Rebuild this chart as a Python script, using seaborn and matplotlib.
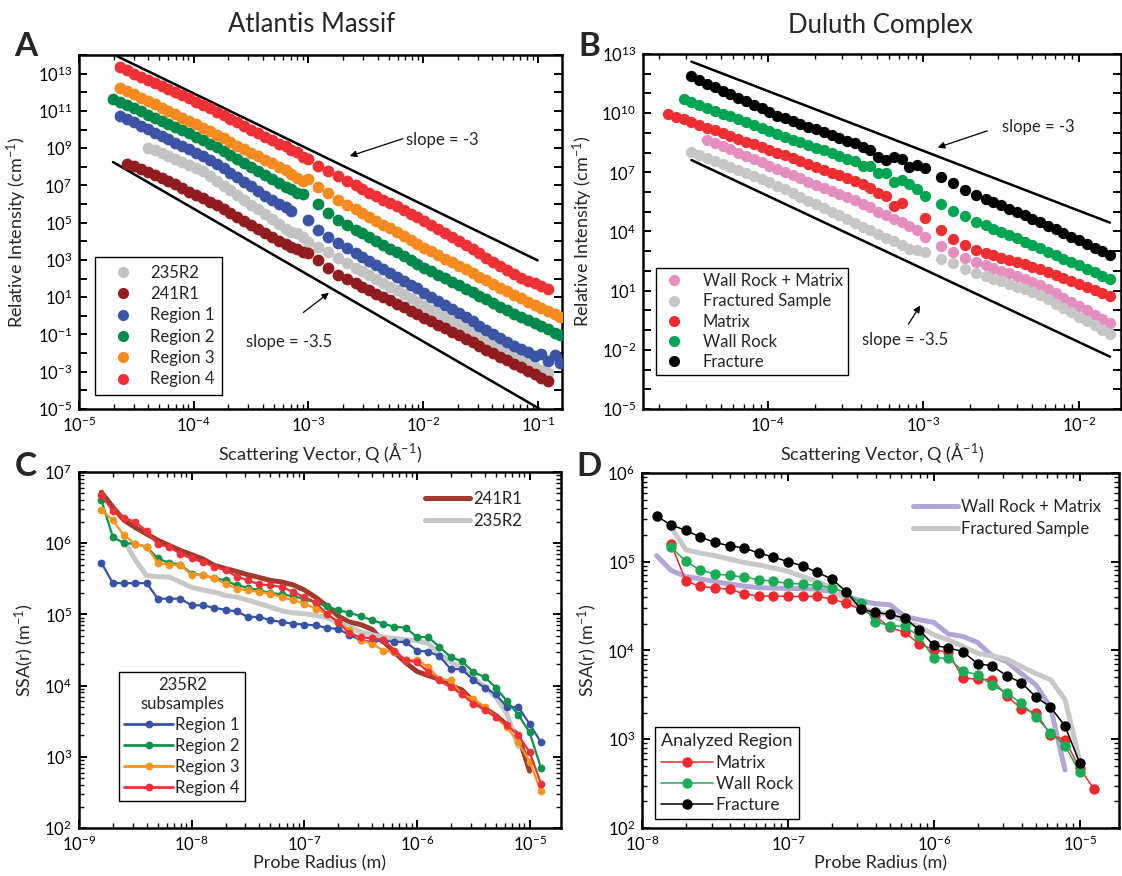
import numpy as np
import matplotlib
matplotlib.use("Agg")
import matplotlib.pyplot as plt
import matplotlib.ticker as mticker
from matplotlib.lines import Line2D
import seaborn as sns

# ---------------- panel A : Atlantis Massif (log10 values) ----------------
logq_a = [-4.70, -4.64, -4.58, -4.52, -4.46, -4.40, -4.34, -4.28, -4.22, -4.16,
          -4.10, -4.04, -3.98, -3.92, -3.86, -3.80, -3.74, -3.68, -3.62, -3.56,
          -3.50, -3.44, -3.38, -3.32, -3.26, -3.20, -3.15, -3.10, -3.05, -3.00,
          -2.92, -2.83, -2.74, -2.66, -2.59, -2.53, -2.47, -2.41, -2.35, -2.29,
          -2.23, -2.17, -2.11, -2.05, -1.99, -1.93, -1.87, -1.81, -1.75, -1.69,
          -1.63, -1.57, -1.51, -1.45, -1.39, -1.33, -1.27, -1.21, -1.15, -1.09,
          -1.03, -0.97, -0.91, -0.85, -0.81]
nan = np.nan
logi_235r2 = [nan, nan, nan, nan, nan, 9.03, 8.88, 8.72, 8.56, 8.40,
              8.24, 8.08, 7.91, 7.75, 7.50, 7.24, 6.99, 6.73, 6.47, 6.22,
              5.96, 5.71, 5.45, 5.19, 4.94, 4.68, 4.48, 4.42, 4.25, 3.95,
              3.70, 3.44, 3.11, 2.83, 2.59, 2.39, 2.18, 1.98, 1.77, 1.57,
              1.37, 1.16, 0.96, 0.75, 0.55, 0.34, 0.13, -0.08, -0.29, -0.50,
              -0.71, -0.92, -1.13, -1.34, -1.55, -1.76, -1.97, -2.18, -2.39, -2.55,
              -2.72, -2.88, -3.05, nan, nan]
logi_241r1 = [nan, nan, 8.14, 8.05, 7.88, 7.72, 7.55, 7.38, 7.22, 7.05,
              6.86, 6.67, 6.50, 6.34, 6.13, 5.93, 5.72, 5.51, 5.30, 5.09,
              4.88, 4.67, 4.46, 4.25, 4.04, 3.83, 3.70, 3.58, 3.45, 3.36,
              3.01, 2.58, 2.20, 1.96, 1.74, 1.56, 1.38, 1.19, 1.01, 0.83,
              0.64, 0.46, 0.27, 0.09, -0.10, -0.29, -0.48, -0.67, -0.86, -1.05,
              -1.24, -1.43, -1.62, -1.81, -2.00, -2.19, -2.38, -2.57, -2.76, -2.95,
              -3.14, -3.33, -3.52, nan, nan]
logi_reg1 = [nan, 10.74, 10.56, 10.38, 10.20, 10.02, 9.83, 9.65, 9.47, 9.29,
             9.11, 8.93, 8.75, 8.56, 8.35, 8.13, 7.91, 7.68, 7.45, 7.20,
             6.95, 6.70, 6.45, 6.20, 5.98, 5.85, 5.62, nan, nan, 5.15,
             4.62, 4.24, 3.92, 3.62, 3.38, 3.16, 2.95, 2.74, 2.53, 2.31,
             2.10, 1.89, 1.68, 1.47, 1.25, 1.03, 0.81, 0.59, 0.37, 0.15,
             -0.07, -0.30, -0.52, -0.74, -0.96, -1.18, -1.40, -1.60, -1.80, -1.95,
             -2.15, -2.05, -2.40, -2.10, -2.55]
logi_reg2 = [11.64, 11.47, 11.30, 11.14, 10.97, 10.80, 10.63, 10.46, 10.30, 10.13,
             9.96, 9.79, 9.62, 9.45, 9.25, 9.05, 8.84, 8.63, 8.42, 8.21,
             8.00, 7.79, 7.58, 7.36, 7.15, 6.92, 6.80, 6.62, 6.55, nan,
             6.01, 5.53, 5.15, 4.87, 4.63, 4.43, 4.22, 4.02, 3.81, 3.61,
             3.41, 3.20, 3.00, 2.79, 2.59, 2.40, 2.21, 2.02, 1.83, 1.64,
             1.45, 1.26, 1.07, 0.88, 0.69, 0.50, 0.31, 0.12, -0.07, -0.24,
             -0.40, -0.57, -0.73, -0.90, -1.05]
logi_reg3 = [nan, 12.25, 12.07, 11.89, 11.71, 11.53, 11.35, 11.17, 10.99, 10.82,
             10.64, 10.46, 10.28, 10.10, 9.91, 9.72, 9.53, 9.33, 9.14, 8.95,
             8.76, 8.57, 8.38, 8.19, 8.00, 7.81, 7.62, 7.40, 7.22, 7.35,
             6.93, 6.61, 6.23, 5.95, 5.71, 5.50, 5.30, 5.10, 4.89, 4.69,
             4.48, 4.28, 4.07, 3.87, 3.66, 3.46, 3.27, 3.07, 2.88, 2.68,
             2.49, 2.30, 2.10, 1.91, 1.72, 1.52, 1.33, 1.14, 0.95, 0.77,
             0.60, 0.42, 0.25, 0.08, -0.05]
logi_reg4 = [nan, 13.34, 13.17, 13.00, 12.84, 12.67, 12.50, 12.34, 12.17, 12.00,
             11.84, 11.67, 11.50, 11.33, 11.14, 10.95, 10.76, 10.57, 10.38, 10.19,
             10.00, 9.81, 9.62, 9.42, 9.23, 9.10, 8.88, 8.78, 8.50, 8.40,
             8.05, 7.78, 7.48, 7.22, 7.00, 6.81, 6.62, 6.43, 6.24, 6.06,
             5.87, 5.68, 5.49, 5.30, 5.11, 4.89, 4.67, 4.45, 4.23, 4.01,
             3.79, 3.57, 3.35, 3.13, 2.91, 2.69, 2.47, 2.25, 2.03, 1.87,
             1.74, 1.60, 1.46, nan, nan]
names_a = ["235R2", "241R1", "Region 1", "Region 2", "Region 3", "Region 4"]
colors_a = ["#c3c3c3", "#911c1f", "#3b54a5", "#00894a", "#f58a1f", "#ee3135"]

# ---------------- panel B : Duluth Complex (log10 values) ----------------
logq_b = [-4.64, -4.59, -4.54, -4.49, -4.44, -4.39, -4.34, -4.29, -4.24, -4.19,
          -4.14, -4.09, -4.04, -3.99, -3.94, -3.89, -3.84, -3.79, -3.74, -3.69,
          -3.64, -3.59, -3.54, -3.49, -3.44, -3.39, -3.34, -3.29, -3.24, -3.19,
          -3.14, -3.09, -3.04, -2.99,
          -2.89, -2.81, -2.73, -2.66, -2.60, -2.55, -2.50, -2.45, -2.40, -2.35,
          -2.30, -2.25, -2.20, -2.15, -2.10, -2.05, -2.00, -1.95, -1.90, -1.85, -1.80]
logi_wrm = [nan, nan, nan, nan, nan, 8.65, 8.48, 8.32, 8.16, 7.99,
            7.83, 7.67, 7.50, 7.34, 7.18, 7.01, 6.85, 6.69, 6.53, 6.37,
            6.21, 6.05, 5.89, 5.73, 5.60, 5.41, 5.26, 4.97, 4.85, 4.62,
            4.48, 4.30, 4.10, 3.70,
            3.25, 2.97, 2.66, 2.46, 2.29, 2.15, 2.01, 1.87, 1.73, 1.59,
            1.45, 1.28, 1.07, 0.86, 0.64, 0.43, 0.21, 0.00, -0.22, -0.43, -0.65]
logi_frs = [nan, nan, nan, 8.05, 7.90, 7.73, 7.58, 7.42, 7.27, 7.11,
            6.96, 6.80, 6.64, 6.49, 6.33, 6.14, 5.95, 5.76, 5.57, 5.38,
            5.19, 5.01, 4.82, 4.63, 4.44, 4.25, 4.07, 3.87, 3.68, 3.50,
            3.31, 3.10, 3.05, 2.97,
            2.60, 2.38, 2.08, 1.89, 1.73, 1.60, 1.47, 1.34, 1.21, 1.08,
            0.95, 0.77, 0.56, 0.34, 0.12, -0.10, -0.32, -0.54, -0.76, -0.97, -1.19]
logi_mat = [9.96, 9.82, 9.68, 9.54, 9.40, 9.26, 9.12, 8.98, 8.84, 8.70,
            8.56, 8.42, 8.28, 8.14, 8.00, 7.86, 7.71, 7.57, 7.42, 7.28,
            7.13, 6.99, 6.84, 6.69, 6.55, 6.40, 6.22, 5.94, 5.78, 5.27,
            5.45, nan, nan, 4.70,
            4.10, 3.60, 3.31, 3.06, 2.92, 2.80, 2.68, 2.56, 2.44, 2.33,
            2.21, 2.08, 1.93, 1.78, 1.63, 1.48, 1.33, 1.18, 1.03, 0.88, 0.74]
logi_wr = [nan, nan, 10.72, 10.57, 10.42, 10.27, 10.13, 9.98, 9.83, 9.68,
           9.53, 9.38, 9.24, 9.09, 8.94, 8.80, 8.66, 8.52, 8.38, 8.25,
           8.11, 7.97, 7.83, 7.69, 7.55, 7.30, 7.32, 6.98, 6.95, 6.50,
           6.62, 6.40, 6.15, 5.80,
           5.40, 5.05, 4.77, 4.50, 4.31, 4.14, 3.98, 3.81, 3.65, 3.49,
           3.32, 3.15, 2.98, 2.80, 2.63, 2.45, 2.28, 2.10, 1.93, 1.75, 1.58]
logi_frac = [nan, nan, nan, 11.86, 11.67, 11.50, 11.32, 11.14, 10.96, 10.78,
             10.60, 10.42, 10.24, 10.06, 9.88, 9.73, 9.59, 9.45, 9.32, 9.18,
             9.04, 8.90, 8.75, 8.59, 8.50, 8.28, 8.13, 7.79, 7.60, 7.80,
             7.70, 7.25, 7.38, 7.20,
             6.74, 6.44, 6.12, 5.85, 5.65, 5.48, 5.32, 5.15, 4.99, 4.82,
             4.65, 4.48, 4.30, 4.12, 3.93, 3.74, 3.55, 3.37, 3.18, 3.00, 2.82]
names_b = ["Wall Rock + Matrix", "Fractured Sample", "Matrix", "Wall Rock", "Fracture"]
colors_b = ["#e58fc1", "#c6c6c6", "#ee2e31", "#00a551", "#000000"]

# ---------------- panel C : SSA, Atlantis Massif ----------------
r_c = [1.58e-9, 2.00e-9, 2.51e-9, 3.16e-9, 3.98e-9, 5.01e-9, 6.31e-9, 7.94e-9,
       1.00e-8, 1.26e-8, 1.58e-8, 2.00e-8, 2.51e-8, 3.16e-8, 3.98e-8, 5.01e-8, 6.31e-8, 7.94e-8,
       1.00e-7, 1.26e-7, 1.58e-7, 2.00e-7, 2.51e-7, 3.16e-7, 3.98e-7, 5.01e-7, 6.31e-7, 7.94e-7,
       1.00e-6, 1.26e-6, 1.58e-6, 2.00e-6, 2.51e-6, 3.16e-6, 3.98e-6, 5.01e-6, 6.31e-6, 7.94e-6,
       1.00e-5, 1.26e-5]
ssa_reg1 = [5.3e5, 2.75e5, 2.75e5, 2.75e5, 2.75e5, 1.66e5, 1.66e5, 1.66e5, 1.34e5, 1.34e5,
            1.24e5, 1.16e5, 1.10e5, 9.2e4, 9.2e4, 8.3e4, 7.8e4, 7.4e4, 7.2e4, 7.0e4,
            6.5e4, 6.2e4, 5.2e4, 4.3e4, 4.1e4, 4.3e4, 4.1e4, 4.1e4, 3.1e4, 3.0e4,
            2.6e4, 1.7e4, 1.7e4, 1.2e4, 9.4e3, 7.5e3, 5.0e3, 5.0e3, 2.9e3, 1.6e3]
ssa_reg2 = [4.0e6, 1.22e6, 1.0e6, 9.8e5, 8.9e5, 6.1e5, 5.3e5, 5.0e5, 3.75e5, 3.55e5,
            3.25e5, 3.0e5, 2.56e5, 2.38e5, 2.18e5, 2.0e5, 1.91e5, 1.80e5, 1.66e5, 1.46e5,
            1.31e5, 1.14e5, 1.06e5, 9.4e4, 8.3e4, 7.4e4, 6.7e4, 6.5e4, 4.8e4, 4.8e4,
            3.5e4, 2.5e4, 2.2e4, 1.55e4, 1.32e4, 9.4e3, 6.0e3, 3.9e3, 2.2e3, 7.0e2]
ssa_reg3 = [2.96e6, 2.1e6, 1.29e6, 9.8e5, 8.9e5, 5.3e5, 5.0e5, 4.9e5, 3.6e5, 3.55e5,
            3.2e5, 2.7e5, 2.3e5, 2.18e5, 2.06e5, 1.96e5, 1.75e5, 1.58e5, 1.42e5, 1.2e5,
            1.02e5, 7.8e4, 6.0e4, 4.3e4, 3.9e4, 3.1e4, 3.0e4, 2.3e4, 2.3e4, 1.82e4,
            1.25e4, 1.18e4, 7.5e3, 6.5e3, 5.0e3, 3.6e3, 2.6e3, 1.6e3, 8.5e2, 3.3e2]
ssa_reg4 = [4.7e6, 2.83e6, 2.28e6, 1.99e6, 1.48e6, 9.6e5, 8.9e5, 7.1e5, 6.1e5, 5.4e5,
            4.7e5, 4.2e5, 3.4e5, 3.0e5, 2.64e5, 2.56e5, 2.43e5, 2.07e5, 1.75e5, 1.49e5,
            1.02e5, 7.8e4, 5.4e4, 4.8e4, 4.6e4, 4.4e4, 3.1e4, 2.26e4, 2.14e4, 1.55e4,
            1.19e4, 9.6e3, 7.5e3, 5.6e3, 4.6e3, 3.6e3, 2.8e3, 2.0e3, 1.17e3, 4.2e2]
ssa_241r1 = [5.2e6, 3.2e6, 2.1e6, 1.66e6, 1.35e6, 1.1e6, 9.3e5, 7.9e5, 6.9e5, 6.0e5,
             4.9e5, 4.4e5, 4.0e5, 3.6e5, 3.3e5, 3.0e5, 2.85e5, 2.6e5, 2.2e5, 1.74e5,
             1.32e5, 9.5e4, 7.8e4, 7.2e4, 6.2e4, 4.2e4, 2.95e4, 2.1e4, 1.58e4, 1.38e4,
             1.23e4, 1.0e4, 8.7e3, 6.0e3, 4.8e3, 3.8e3, 2.8e3, 2.0e3, 6.3e2, nan]
ssa_235r2 = [nan, nan, 1.1e6, 5.8e5, 3.5e5, 3.4e5, 3.35e5, 2.85e5, 2.4e5, 2.2e5,
             2.06e5, 1.85e5, 1.75e5, 1.58e5, 1.42e5, 1.27e5, 1.12e5, 1.05e5, 1.02e5, 9.7e4,
             9.0e4, 7.8e4, 6.7e4, 5.7e4, 5.2e4, 4.8e4, 4.6e4, 4.4e4, 4.3e4, 3.9e4,
             2.8e4, 2.15e4, 1.73e4, 1.3e4, 9.6e3, 6.9e3, 4.0e3, 1.38e3, nan, nan]
colors_c = ["#3953a4", "#0f934b", "#f7941e", "#ee3237"]

# ---------------- panel D : SSA, Duluth Complex ----------------
r_d = [1.26e-8, 1.58e-8, 2.00e-8, 2.51e-8, 3.16e-8, 3.98e-8, 5.01e-8, 6.31e-8, 7.94e-8,
       1.00e-7, 1.26e-7, 1.58e-7, 2.00e-7, 2.51e-7, 3.16e-7, 3.98e-7, 5.01e-7, 6.31e-7, 7.94e-7,
       1.00e-6, 1.26e-6, 1.58e-6, 2.00e-6, 2.51e-6, 3.16e-6, 3.98e-6, 5.01e-6, 6.31e-6, 7.94e-6,
       1.00e-5, 1.26e-5]
ssa_matrix = [nan, 1.6e5, 6.0e4, 5.3e4, 5.05e4, 4.9e4, 4.35e4, 4.1e4, 4.1e4, 4.06e4,
              4.06e4, 4.06e4, 3.8e4, 3.4e4, 2.9e4, 2.42e4, 1.82e4, 1.6e4, 1.19e4, 1.02e4,
              9.5e3, 4.9e3, 4.75e3, 4.7e3, 3.1e3, 2.2e3, 2.0e3, 1.12e3, 9.8e2, 4.7e2, 2.73e2]
ssa_wallrock = [nan, 1.46e5, 1.01e5, 8.0e4, 7.3e4, 7.0e4, 6.7e4, 6.3e4, 6.0e4, 5.7e4,
                5.6e4, 5.4e4, 5.1e4, 4.5e4, 3.42e4, 2.09e4, 1.9e4, 1.87e4, 1.44e4, 8.2e3,
                8.2e3, 5.9e3, 5.3e3, 4.1e3, 3.3e3, 2.55e3, 1.77e3, 1.19e3, 8.4e2, 4.3e2, nan]
ssa_fracture = [3.25e5, 2.6e5, 2.25e5, 1.9e5, 1.65e5, 1.51e5, 1.43e5, 1.25e5, 1.13e5, 1.0e5,
                9.0e4, 7.6e4, 6.4e4, 4.6e4, 2.93e4, 2.68e4, 2.55e4, 2.32e4, 1.71e4, 1.14e4,
                1.07e4, 9.7e3, 7.1e3, 6.7e3, 5.2e3, 4.35e3, 3.0e3, 2.3e3, 1.41e3, 5.4e2, nan]
ssa_wrm = [1.17e5, 8.0e4, 6.8e4, 6.4e4, 6.0e4, 5.6e4, 5.3e4, 5.1e4, 5.05e4, 5.0e4,
           4.97e4, 4.9e4, 4.6e4, 4.06e4, 3.63e4, 3.36e4, 3.27e4, 2.42e4, 2.22e4, 2.07e4,
           1.53e4, 1.44e4, 1.23e4, 8.7e3, 7.5e3, 5.5e3, 4.1e3, 2.3e3, 4.5e2, nan, nan]
ssa_frs = [nan, 2.46e5, 1.36e5, 1.25e5, 1.17e5, 1.07e5, 9.8e4, 9.2e4, 8.5e4, 7.8e4,
           6.8e4, 6.0e4, 5.05e4, 3.7e4, 3.0e4, 2.68e4, 2.52e4, 2.12e4, 1.87e4, 1.5e4,
           1.32e4, 1.11e4, 9.3e3, 8.7e3, 8.0e3, 6.6e3, 5.5e3, 4.7e3, 2.8e3, 5.8e2, nan]
colors_d = ["#ee2a2e", "#1aad55", "#000000"]

# ---------------- style ----------------
sns.set_theme(style="ticks")
plt.rcParams["font.family"] = ["Lato", "DejaVu Sans"]
plt.rcParams["mathtext.fontset"] = "custom"
plt.rcParams["mathtext.rm"] = "Lato"
plt.rcParams["mathtext.it"] = "Lato:italic"
plt.rcParams["mathtext.bf"] = "Lato:bold"
plt.rcParams["axes.linewidth"] = 1.8
plt.rcParams["axes.edgecolor"] = "black"

FS = 12
LFS = 13


def decades(lo, hi):
    return [10.0 ** e for e in range(int(np.ceil(np.log10(lo) - 1e-9)),
                                      int(np.floor(np.log10(hi) + 1e-9)) + 1)]


def minors(lo, hi):
    out = []
    for e in range(int(np.floor(np.log10(lo))), int(np.ceil(np.log10(hi))) + 1):
        for m in range(2, 10):
            v = m * 10.0 ** e
            if lo < v < hi:
                out.append(v)
    return out


def style_axes(ax, xlim, ylim, keep_y, y_minor):
    ax.set_xscale("log")
    ax.set_yscale("log")
    ax.set_xlim(*xlim)
    ax.set_ylim(*ylim)
    ax.xaxis.set_major_locator(mticker.FixedLocator(decades(*xlim)))
    ax.xaxis.set_minor_locator(mticker.FixedLocator(minors(*xlim)))
    ax.xaxis.set_major_formatter(mticker.FuncFormatter(
        lambda v, p: f"$10^{{{int(round(np.log10(v)))}}}$"))
    ax.yaxis.set_major_locator(mticker.FixedLocator(decades(*ylim)))
    if y_minor:
        ax.yaxis.set_minor_locator(mticker.FixedLocator(minors(*ylim)))
    else:
        ax.yaxis.set_minor_locator(mticker.NullLocator())
    ax.yaxis.set_major_formatter(mticker.FuncFormatter(
        lambda v, p: f"$10^{{{int(round(np.log10(v)))}}}$" if keep_y(int(round(np.log10(v)))) else ""))
    ax.xaxis.set_minor_formatter(mticker.NullFormatter())
    ax.yaxis.set_minor_formatter(mticker.NullFormatter())
    ax.tick_params(which="both", direction="in", top=True, right=True, colors="black",
                   labelsize=FS)
    ax.tick_params(which="major", length=6, width=1.4, pad=5)
    ax.tick_params(which="minor", length=3.5, width=1.0)
    for s in ax.spines.values():
        s.set_linewidth(1.8)
        s.set_color("black")


fig = plt.figure(figsize=(11.22, 8.76), dpi=100)
axA = fig.add_axes([0.0704, 0.5331, 0.4305, 0.4041])
axB = fig.add_axes([0.5731, 0.5331, 0.4260, 0.4053])
axC = fig.add_axes([0.0704, 0.0548, 0.4296, 0.4064])
axD = fig.add_axes([0.5722, 0.0548, 0.4251, 0.4053])

# ---------------- A ----------------
style_axes(axA, (1e-5, 0.162), (1e-5, 1e14), lambda e: e % 2 != 0, False)
qa = np.power(10.0, logq_a)
for nm, col, li in zip(names_a, colors_a,
                       [logi_235r2, logi_241r1, logi_reg1, logi_reg2, logi_reg3, logi_reg4]):
    sns.scatterplot(x=qa, y=np.power(10.0, li), color=col, s=72, linewidth=0,
                    ax=axA, legend=False, zorder=3)
axA.plot([2.16e-5, 0.0993], [8.5e13, 9.5e2], color="black", lw=1.8, zorder=2)
axA.plot([1.98e-5, 0.104], [1.8e8, 1.0e-5], color="black", lw=1.8, zorder=2)
axA.set_xlim(1e-5, 0.162)
axA.set_ylim(1e-5, 1e14)
axA.text(0.677, 0.760, "slope = -3", transform=axA.transAxes, fontsize=FS, va="center")
axA.annotate("", xy=(0.555, 0.712), xytext=(0.676, 0.766), xycoords="axes fraction",
             arrowprops=dict(arrowstyle="-|>", color="black", lw=0.9, mutation_scale=10))
axA.text(0.346, 0.189, "slope = -3.5", transform=axA.transAxes, fontsize=FS, va="center")
axA.annotate("", xy=(0.522, 0.333), xytext=(0.460, 0.268), xycoords="axes fraction",
             arrowprops=dict(arrowstyle="-|>", color="black", lw=0.9, mutation_scale=10))
hA = [Line2D([], [], ls="none", marker="o", ms=8, mew=0, color=c) for c in colors_a]
legA = axA.legend(hA, names_a, loc="lower left", bbox_to_anchor=(0.033, 0.04), fontsize=FS,
                  frameon=True, fancybox=False, framealpha=1, edgecolor="black",
                  borderpad=0.45, labelspacing=0.32, handletextpad=0.35, handlelength=2.5,
                  borderaxespad=0)
legA.get_frame().set_linewidth(1.0)
axA.set_xlabel("Scattering Vector, Q (Å$^{-1}$)", fontsize=LFS)
axA.set_ylabel("Relative Intensity (cm$^{-1}$)", fontsize=LFS)
axA.xaxis.set_label_coords(0.5, -0.088)
axA.yaxis.set_label_coords(-0.1035, 0.5)

# ---------------- B ----------------
style_axes(axB, (1.58e-5, 0.0186), (1e-5, 1e13), lambda e: (e - 1) % 3 == 0, False)
qb = np.power(10.0, logq_b)
for nm, col, li in zip(names_b, colors_b, [logi_wrm, logi_frs, logi_mat, logi_wr, logi_frac]):
    sns.scatterplot(x=qb, y=np.power(10.0, li), color=col, s=66, linewidth=0,
                    ax=axB, legend=False, zorder=3)
axB.plot([3.23e-5, 0.0158], [4.1e12, 2.8e4], color="black", lw=1.8, zorder=2)
axB.plot([3.23e-5, 0.0158], [4.2e7, 4.5e-3], color="black", lw=1.8, zorder=2)
axB.set_xlim(1.58e-5, 0.0186)
axB.set_ylim(1e-5, 1e13)
axB.text(0.751, 0.794, "slope = -3", transform=axB.transAxes, fontsize=FS, va="center")
axB.annotate("", xy=(0.611, 0.734), xytext=(0.726, 0.786), xycoords="axes fraction",
             arrowprops=dict(arrowstyle="-|>", color="black", lw=0.9, mutation_scale=10))
axB.text(0.458, 0.194, "slope = -3.5", transform=axB.transAxes, fontsize=FS, va="center")
axB.annotate("", xy=(0.583, 0.298), xytext=(0.552, 0.232), xycoords="axes fraction",
             arrowprops=dict(arrowstyle="-|>", color="black", lw=0.9, mutation_scale=10))
hB = [Line2D([], [], ls="none", marker="o", ms=8, mew=0, color=c) for c in colors_b]
legB = axB.legend(hB, names_b, loc="lower left", bbox_to_anchor=(0.027, 0.096), fontsize=FS,
                  frameon=True, fancybox=False, framealpha=1, edgecolor="black",
                  borderpad=0.3, labelspacing=0.25, handletextpad=0.9, handlelength=1.6,
                  borderaxespad=0)
legB.get_frame().set_linewidth(1.0)
axB.set_xlabel("Scattering Vector, Q (Å$^{-1}$)", fontsize=LFS)
axB.set_ylabel("Relative Intensity (cm$^{-1}$)", fontsize=LFS)
axB.xaxis.set_label_coords(0.5, -0.088)
axB.yaxis.set_label_coords(-0.100, 0.5)

# ---------------- C ----------------
style_axes(axC, (1e-9, 1.9e-5), (1e2, 1e7), lambda e: True, True)
sns.lineplot(x=r_c, y=ssa_241r1, color="#a3392e", lw=3.6, ax=axC, estimator=None,
             sort=False, legend=False, zorder=2)
sns.lineplot(x=r_c, y=ssa_235r2, color="#c8c8c8", lw=3.6, ax=axC, estimator=None,
             sort=False, legend=False, zorder=2)
for col, vals in zip(colors_c, [ssa_reg1, ssa_reg2, ssa_reg3, ssa_reg4]):
    sns.lineplot(x=r_c, y=vals, color=col, lw=1.6, marker="o", markersize=5.6,
                 markeredgewidth=0, ax=axC, estimator=None, sort=False, legend=False, zorder=3)
axC.set_xlim(1e-9, 1.9e-5)
axC.set_ylim(1e2, 1e7)
hC1 = [Line2D([], [], color="#a3392e", lw=3.6), Line2D([], [], color="#c8c8c8", lw=3.6)]
legC1 = axC.legend(hC1, ["241R1", "235R2"], loc="upper left", bbox_to_anchor=(0.705, 0.965),
                   fontsize=FS, frameon=False, handlelength=2.7, handletextpad=0.15,
                   labelspacing=0.35, borderaxespad=0)
axC.add_artist(legC1)
hC2 = [Line2D([], [], color=c, lw=2, marker="o", ms=5.6, mew=0) for c in colors_c]
legC2 = axC.legend(hC2, ["Region 1", "Region 2", "Region 3", "Region 4"],
                   title="235R2\nsubsamples", title_fontsize=FS, loc="lower left",
                   bbox_to_anchor=(0.084, 0.076), fontsize=FS, frameon=True, fancybox=False,
                   framealpha=1, edgecolor="black", borderpad=0.3, labelspacing=0.3,
                   handletextpad=0.15, handlelength=2.9, borderaxespad=0)
legC2.get_title().set_multialignment("center")
legC2.get_frame().set_linewidth(1.0)
axC.set_xlabel("Probe Radius (m)", fontsize=LFS)
axC.set_ylabel("SSA(r) (m$^{-1}$)", fontsize=LFS)
axC.xaxis.set_label_coords(0.5, -0.078)
axC.yaxis.set_label_coords(-0.089, 0.5)

# ---------------- D ----------------
style_axes(axD, (1e-8, 1.86e-5), (1e2, 1e6), lambda e: True, True)
sns.lineplot(x=r_d, y=ssa_wrm, color="#b3a6d6", lw=3.6, ax=axD, estimator=None,
             sort=False, legend=False, zorder=2)
sns.lineplot(x=r_d, y=ssa_frs, color="#c8c8c8", lw=3.6, ax=axD, estimator=None,
             sort=False, legend=False, zorder=2)
for col, vals in zip(colors_d, [ssa_matrix, ssa_wallrock, ssa_fracture]):
    sns.lineplot(x=r_d, y=vals, color=col, lw=1.1, marker="o", markersize=7.5,
                 markeredgewidth=0, ax=axD, estimator=None, sort=False, legend=False, zorder=3)
axD.set_xlim(1e-8, 1.86e-5)
axD.set_ylim(1e2, 1e6)
hD1 = [Line2D([], [], color="#b3a6d6", lw=3.6), Line2D([], [], color="#c8c8c8", lw=3.6)]
legD1 = axD.legend(hD1, ["Wall Rock + Matrix", "Fractured Sample"], loc="upper left",
                   bbox_to_anchor=(0.555, 0.945), fontsize=FS, frameon=False,
                   handlelength=2.7, handletextpad=0.15, labelspacing=0.35, borderaxespad=0)
axD.add_artist(legD1)
hD2 = [Line2D([], [], color=c, lw=1.1, marker="o", ms=7.5, mew=0) for c in colors_d]
legD2 = axD.legend(hD2, ["Matrix", "Wall Rock", "Fracture"], title="Analyzed Region",
                   title_fontsize=13, loc="lower left", bbox_to_anchor=(0.027, 0.025),
                   fontsize=FS + 0.5, frameon=True, fancybox=False, framealpha=1,
                   edgecolor="black", borderpad=0.35, labelspacing=0.3, handletextpad=0.15,
                   handlelength=3.0, borderaxespad=0)
legD2.get_frame().set_linewidth(1.0)
axD.set_xlabel("Probe Radius (m)", fontsize=LFS)
axD.set_ylabel("SSA(r) (m$^{-1}$)", fontsize=LFS)
axD.xaxis.set_label_coords(0.5, -0.078)
axD.yaxis.set_label_coords(-0.090, 0.5)

# ---------------- titles and panel letters ----------------
fig.text(312 / 1122, 1 - 25 / 876, "Atlantis Massif", ha="center", va="center", fontsize=18.5)
fig.text(880 / 1122, 1 - 25 / 876, "Duluth Complex", ha="center", va="center", fontsize=18.5)
for lab, x, y in [("A", 26, 46), ("B", 589, 47), ("C", 26, 466), ("D", 589, 467)]:
    fig.text(x / 1122, 1 - y / 876, lab, ha="center", va="center", fontsize=24,
             fontweight="bold")

fig.savefig("out.png", dpi=100)
